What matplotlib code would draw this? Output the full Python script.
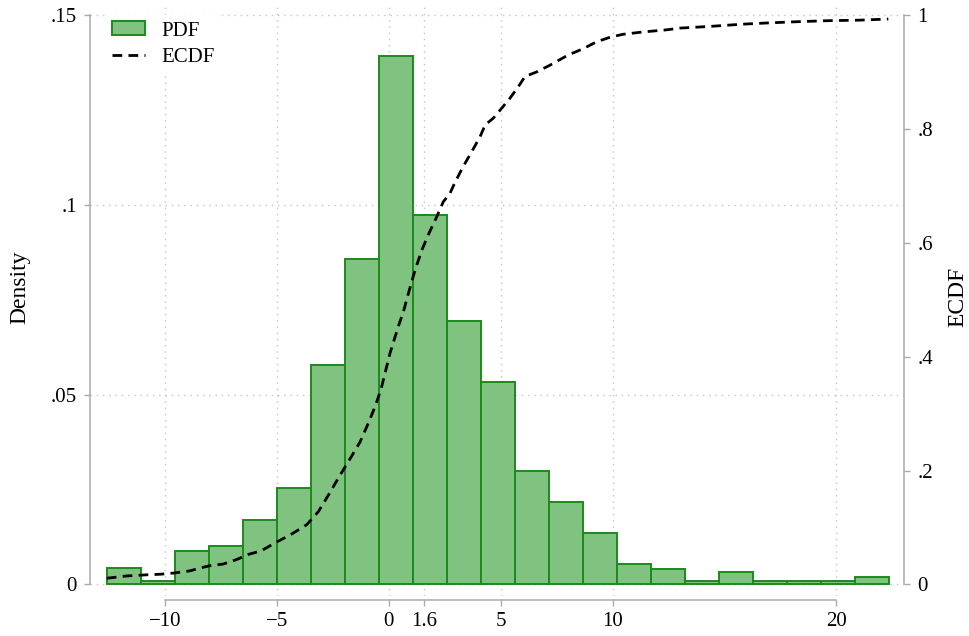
import matplotlib
matplotlib.use("Agg")
import matplotlib.pyplot as plt
from matplotlib.patches import Patch
from matplotlib.lines import Line2D
import numpy as np

plt.rcParams['font.family'] = ['Liberation Serif', 'DejaVu Serif']
plt.rcParams['lines.scale_dashes'] = False

# histogram (density), 23 bins of equal width
bin_start = -12.6
bin_width = 1.52
density = [0.0043, 0.0009, 0.0089, 0.0101, 0.0170, 0.0253, 0.0578, 0.0857,
           0.1391, 0.0972, 0.0693, 0.0533, 0.0299, 0.0217, 0.0136, 0.0054,
           0.0042, 0.0009, 0.0033, 0.0009, 0.0009, 0.0009, 0.0021]

ecdf_x = [-12.59, -11.70, -10.80, -10.21, -9.62, -8.87, -8.42, -7.98, -7.38,
          -6.78, -6.25, -5.70, -5.03, -4.40, -3.66, -3.14, -2.69, -2.17,
          -1.72, -1.28, -0.91, -0.61, -0.34, 0.06, 0.43, 0.66, 0.88, 1.18,
          1.48, 1.77, 2.15, 2.44, 2.74, 2.95, 3.33, 3.71, 4.08, 4.31, 4.68,
          4.98, 5.42, 5.79, 6.09, 6.61, 7.21, 8.03, 8.70, 9.29, 9.89, 10.45,
          11.30, 12.42, 13.01, 14.35, 15.84, 16.89, 18.08, 19.57, 21.06, 22.32]
ecdf_y = [0.011, 0.015, 0.017, 0.018, 0.020, 0.024, 0.029, 0.033, 0.036,
          0.044, 0.053, 0.059, 0.074, 0.087, 0.105, 0.128, 0.157, 0.192,
          0.221, 0.250, 0.283, 0.312, 0.343, 0.406, 0.453, 0.479, 0.511, 0.552,
          0.587, 0.614, 0.646, 0.672, 0.687, 0.705, 0.734, 0.760, 0.786, 0.807, 0.819,
          0.833, 0.854, 0.874, 0.892, 0.900, 0.912, 0.930, 0.941, 0.953, 0.961, 0.966,
          0.970, 0.974, 0.977, 0.980, 0.984, 0.986, 0.988, 0.990, 0.991, 0.993]

x_ticks = [-10, -5, 0, 1.6, 5, 10, 20]
x_ticklabels = ['\u221210', '\u22125', '0', '1.6', '5', '10', '20']
y_ticks = [0, 0.05, 0.1, 0.15]
y_ticklabels = ['0', '.05', '.1', '.15']
y2_ticks = [0, 0.2, 0.4, 0.6, 0.8, 1]
y2_ticklabels = ['0', '.2', '.4', '.6', '.8', '1']

W, H = 970, 636
fig = plt.figure(figsize=(W / 100, H / 100), dpi=100)
ax = fig.add_axes([90 / W, (H - 596) / H, 814 / W, 593 / H])
ax2 = ax.twinx()

axis_gray = '#a9a9a9'
grid_gray = '#c4c4c4'
bar_face = '#80c280'
bar_edge = '#1c8a1c'
line_dash = (7, 4.5)

# bars
edges = bin_start + bin_width * np.arange(len(density))
ax.bar(edges, density, width=bin_width, align='edge', color=bar_face,
       edgecolor=bar_edge, linewidth=1.4, zorder=2)

ax.set_xlim(-13.34, 23.02)
ax.set_ylim(-0.00303, 0.15316)
ax2.set_ylim(-0.0202, 1.0211)

# grid (dotted)
ax.set_axisbelow(True)
ax.set_xticks(x_ticks)
ax.set_xticklabels(x_ticklabels)
ax.set_yticks(y_ticks)
ax.set_yticklabels(y_ticklabels)
ax.grid(True, color=grid_gray, linestyle=(0, (1, 3.5)), linewidth=1.0)

ax2.set_yticks(y2_ticks)
ax2.set_yticklabels(y2_ticklabels)

# ECDF line
ax2.plot(ecdf_x, ecdf_y, color='black', linewidth=2.0,
         dashes=line_dash, zorder=3)

# spines, Stata style
for a in (ax, ax2):
    a.spines['top'].set_visible(False)
ax.spines['right'].set_visible(False)
ax2.spines['left'].set_visible(False)
ax2.spines['bottom'].set_visible(False)
ax.spines['left'].set_bounds(0, 0.15)
ax2.spines['right'].set_bounds(0, 1)
ax.spines['bottom'].set_position(('outward', 3.2))
ax.spines['bottom'].set_bounds(-10, 20)
for sp in (ax.spines['left'], ax.spines['bottom'], ax2.spines['right']):
    sp.set_color(axis_gray)
    sp.set_linewidth(1.1)

ax.tick_params(axis='both', colors=axis_gray, labelcolor='black',
               labelsize=15, length=4.5, width=1.0)
ax.tick_params(axis='y', pad=5)
ax.tick_params(axis='x', pad=4)
ax2.tick_params(axis='y', colors=axis_gray, labelcolor='black',
                labelsize=15, length=4.5, width=1.0, pad=5)

fig.text(20 / W, 1 - 287 / H, 'Density', rotation=90, fontsize=17,
         ha='center', va='center')
fig.text(958 / W, 1 - 297 / H, 'ECDF', rotation=90, fontsize=17,
         ha='center', va='center')

handles = [Patch(facecolor=bar_face, edgecolor=bar_edge, linewidth=1.4),
           Line2D([], [], color='black', linewidth=2.0, dashes=line_dash)]
leg = ax2.legend(handles, ['PDF', 'ECDF'], loc='upper left',
                 bbox_to_anchor=(0.006, 0.997), fontsize=15, frameon=True,
                 facecolor='white', edgecolor='white', framealpha=1,
                 fancybox=False, handlelength=1.6, handleheight=0.65,
                 handletextpad=0.8, labelspacing=0.35, borderpad=0.3)

fig.savefig('out.png', dpi=100)
